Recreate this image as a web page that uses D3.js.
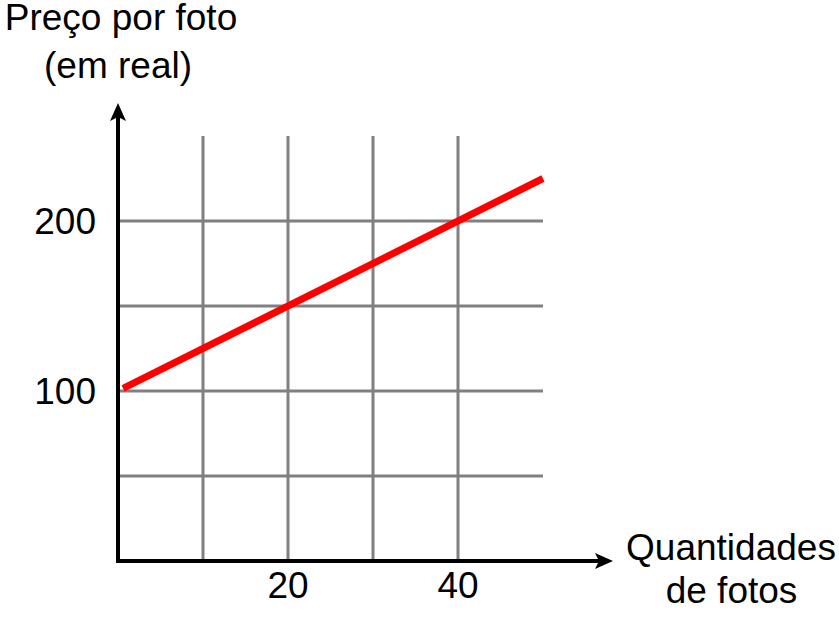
<!DOCTYPE html>
<html>
<head>
<meta charset="utf-8">
<script src="https://cdn.jsdelivr.net/npm/d3@7"></script>
<style>
  body { margin: 0; background: #fff; }
  text { font-family: "Liberation Sans", Arial, sans-serif; fill: #000; font-size: 37px; }
</style>
</head>
<body>
<script>
const width = 839;
const height = 619;

// data
const xGrid = [10, 20, 30, 40];
const yGrid = [50, 100, 150, 200];
const xTicks = [20, 40];
const yTicks = [100, 200];
const lineX = [0.6, 50];
const lineY = [101.5, 225];

const x = d3.scaleLinear().domain([0, 50]).range([118, 543]);
const y = d3.scaleLinear().domain([0, 250]).range([561, 136]);

const svg = d3
    .select("body")
    .append("svg")
    .attr("width", width)
    .attr("height", height);

// grid
svg.selectAll(".vgrid")
    .data(xGrid)
    .enter()
    .append("line")
    .attr("class", "vgrid")
    .attr("x1", (d) => x(d))
    .attr("x2", (d) => x(d))
    .attr("y1", y(0))
    .attr("y2", y(250))
    .attr("stroke", "#808080")
    .attr("stroke-width", 3);

svg.selectAll(".hgrid")
    .data(yGrid)
    .enter()
    .append("line")
    .attr("class", "hgrid")
    .attr("x1", x(0))
    .attr("x2", x(50))
    .attr("y1", (d) => y(d))
    .attr("y2", (d) => y(d))
    .attr("stroke", "#808080")
    .attr("stroke-width", 3);

// red line
const pts = lineX.map((d, i) => [d, lineY[i]]);
svg.append("path")
    .datum(pts)
    .attr("d", d3.line().x((d) => x(d[0])).y((d) => y(d[1])))
    .attr("fill", "none")
    .attr("stroke", "#ff0000")
    .attr("stroke-width", 7);

// axes with arrows
const arrowLen = 18, arrowW = 16;
svg.append("line")
    .attr("x1", x(0) - 2)
    .attr("x2", 600)
    .attr("y1", y(0))
    .attr("y2", y(0))
    .attr("stroke", "#000")
    .attr("stroke-width", 4);
svg.append("path")
    .attr("d", `M613,${y(0)} L${613 - arrowLen},${y(0) - arrowW / 2} L${613 - arrowLen + 4},${y(0)} L${613 - arrowLen},${y(0) + arrowW / 2} Z`)
    .attr("fill", "#000");

svg.append("line")
    .attr("x1", x(0))
    .attr("x2", x(0))
    .attr("y1", y(0) + 2)
    .attr("y2", 116)
    .attr("stroke", "#000")
    .attr("stroke-width", 4);
svg.append("path")
    .attr("d", `M${x(0)},103 L${x(0) - arrowW / 2},${103 + arrowLen} L${x(0)},${103 + arrowLen - 4} L${x(0) + arrowW / 2},${103 + arrowLen} Z`)
    .attr("fill", "#000");

// tick labels
svg.selectAll(".ylab")
    .data(yTicks)
    .enter()
    .append("text")
    .attr("x", 96)
    .attr("y", (d) => y(d) + 13)
    .attr("text-anchor", "end")
    .text((d) => d);

svg.selectAll(".xlab")
    .data(xTicks)
    .enter()
    .append("text")
    .attr("x", (d) => x(d))
    .attr("y", 598)
    .attr("text-anchor", "middle")
    .text((d) => d);

// axis titles
svg.append("text")
    .attr("x", 121)
    .attr("y", 30)
    .attr("text-anchor", "middle")
    .text("Preço por foto");
svg.append("text")
    .attr("x", 118)
    .attr("y", 78)
    .attr("text-anchor", "middle")
    .text("(em real)");

svg.append("text")
    .attr("x", 731)
    .attr("y", 560)
    .attr("text-anchor", "middle")
    .text("Quantidades");
svg.append("text")
    .attr("x", 731.5)
    .attr("y", 603)
    .attr("text-anchor", "middle")
    .text("de fotos");
</script>
</body>
</html>
